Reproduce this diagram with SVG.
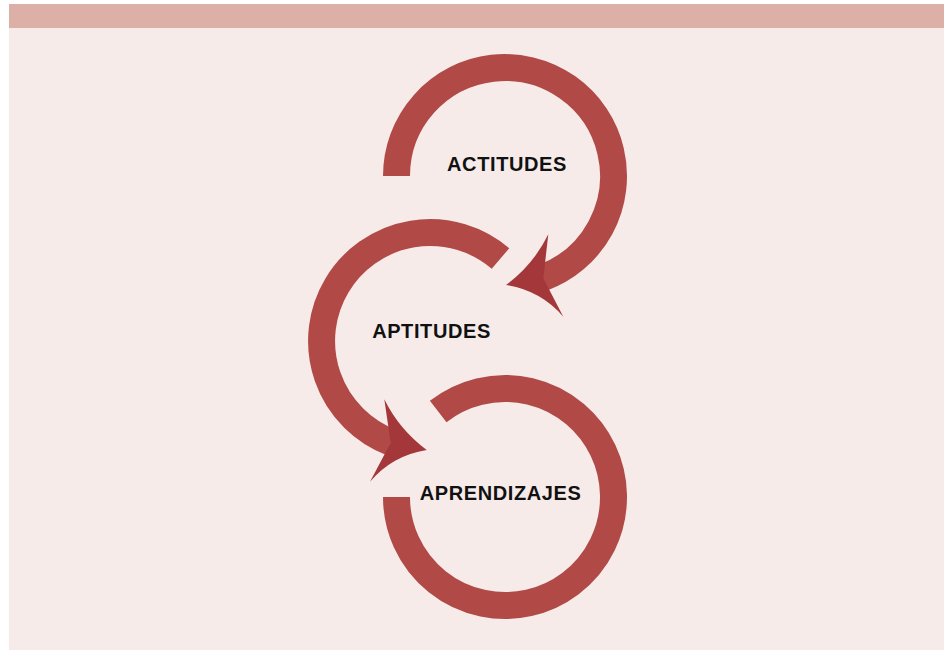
<svg xmlns="http://www.w3.org/2000/svg" width="944" height="650" viewBox="0 0 944 650">
  <style>
    .ring { fill: none; stroke: #B14A47; stroke-width: 27; stroke-linecap: butt; }
    .head { fill: #A3373A; stroke: none; }
    .label { font-family: "Liberation Sans", Arial, sans-serif; font-weight: bold; font-size: 20px; letter-spacing: 0.6px; fill: #111111; text-anchor: middle; }
  </style>
  <rect x="0" y="0" width="944" height="650" fill="#FFFFFF"/>
  <rect x="9" y="4" width="935" height="646" fill="#F6EBE9"/>
  <rect x="9" y="4" width="935" height="24" fill="#DCB0A6"/>
  <g id="connectors">
    <g id="arrow-actitudes-aptitudes">
      <path class="ring" d="M396.5,176 A108.5,108.5 0 1 1 542.1,278.0"/>
      <path class="head" d="M548.3,234.3 Q533.4,264.8 506,285 Q540.5,290.4 563.3,316.7 L543.3,278.3 Z"/>
    </g>
    <g id="arrow-aptitudes-aprendizajes">
      <path class="ring" d="M500.5,258.5 A108.5,108.5 0 1 0 391.1,442.3"/>
      <path class="head" d="M384.3,399.3 Q399.4,429.8 426.7,450 Q392.5,455.4 370,481.7 L390.7,442.7 Z"/>
    </g>
    <g id="loop-aprendizajes">
      <path class="ring" d="M438.2,411.5 A108.5,108.5 0 1 1 396.5,497"/>
    </g>
  </g>
  <g id="node-actitudes">
    <text class="label" x="507" y="171">ACTITUDES</text>
  </g>
  <g id="node-aptitudes">
    <text class="label" x="431.5" y="338">APTITUDES</text>
  </g>
  <g id="node-aprendizajes">
    <text class="label" x="500.6" y="500">APRENDIZAJES</text>
  </g>
</svg>
